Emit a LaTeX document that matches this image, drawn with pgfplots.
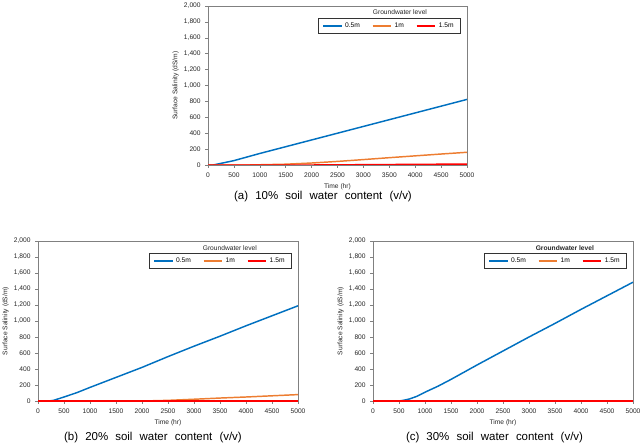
\documentclass[border=0pt]{standalone}
\usepackage{fontspec}
\setmainfont{Liberation Sans}
\usepackage{pgfplots}
\pgfplotsset{compat=1.18}

\definecolor{gw05}{RGB}{0,112,192}
\definecolor{gw10}{RGB}{237,125,49}
\definecolor{gw15}{RGB}{255,0,0}
\definecolor{frame}{RGB}{128,128,128}

\newcommand{\capfont}{\fontsize{8.6}{10}\selectfont\spaceskip=0.62em plus 0.1em\relax}

\pgfplotsset{
  salinity/.style={
    scale only axis,
    xmin=0, xmax=5000, ymin=0, ymax=2000,
    xtick={0,500,...,5000},
    ytick={0,200,...,2000},
    scaled ticks=false,
    /pgf/number format/.cd, 1000 sep={,}, assume math mode=true, /pgfplots/.cd,
    xticklabel style={/pgf/number format/1000 sep={}},
    tick label style={font=\fontsize{5}{6}\selectfont, color=black!85},
    label style={font=\fontsize{5}{6}\selectfont, color=black!85},
    xlabel={Time (hr)},
    ylabel={Surface Salinity (dS/m)},
    xlabel shift=-2pt,
    ylabel shift=-3pt,
    tick align=outside,
    tick pos=left,
    major tick length=2pt,
    every tick/.style={frame, line width=0.4pt},
    axis line style={frame, line width=0.5pt},
    legend columns=3,
    legend cell align=left,
    legend style={
      at={(0.975,0.925)}, anchor=north east,
      draw=black!80, line width=0.4pt,
      font=\fontsize{5}{6}\selectfont,
      inner xsep=3pt, inner ysep=1.2pt,
      /tikz/every even column/.append style={column sep=7pt},
    },
    legend image code/.code={\draw[#1] (0pt,0pt) -- (14pt,0pt);},
    every axis plot/.append style={line width=1.1pt},
  },
}

\begin{document}
\begin{tikzpicture}
\path[use as bounding box] (0,0) rectangle (482.25pt,335.25pt);

% (a) 10% soil water content
\begin{axis}[salinity, name=pa, at={(156pt,211.5pt)}, anchor=south west,
  width=194.25pt, height=119.25pt]
\addplot[gw05] coordinates {(0,0) (100,0) (500,55) (1000,145) (1500,230) (2000,315)
  (2500,400) (3000,485) (3500,570) (4000,655) (4500,740) (5000,825)};
\addplot[gw10] coordinates {(0,0) (800,0) (1000,3) (1500,10) (2000,25) (2500,45)
  (3000,68) (3500,92) (4000,115) (4500,138) (5000,160)};
\addplot[gw15] coordinates {(0,0) (2000,0) (3000,4) (4000,8) (5000,12)};
\legend{0.5m,1m,1.5m}
\node[font=\fontsize{5}{6}\selectfont, color=black!85] at (rel axis cs:0.741,0.962) {Groundwater level};
\end{axis}
\node[font=\capfont] at (242.25pt,187.5pt) {(a) 10\% soil water content (v/v)};

% (b) 20% soil water content
\begin{axis}[salinity, name=pb, at={(28.5pt,34.5pt)}, anchor=south west,
  width=195pt, height=120pt]
\addplot[gw05] coordinates {(0,0) (200,0) (300,8) (500,50) (750,105) (1000,170) (1500,295)
  (2000,420) (2500,555) (3000,685) (3500,810) (4000,940) (4500,1065) (5000,1190)};
\addplot[gw10] coordinates {(0,0) (2000,0) (2500,8) (3000,22) (3500,37) (4000,50)
  (4500,65) (5000,80)};
\addplot[gw15] coordinates {(0,0) (5000,0)};
\legend{0.5m,1m,1.5m}
\node[font=\fontsize{5}{6}\selectfont, color=black!85] at (rel axis cs:0.738,0.956) {Groundwater level};
\end{axis}
\node[font=\capfont] at (114.75pt,6.75pt) {(b) 20\% soil water content (v/v)};

% (c) 30% soil water content
\begin{axis}[salinity, name=pc, at={(279.75pt,34.5pt)}, anchor=south west,
  width=195pt, height=120pt]
\addplot[gw05] coordinates {(0,0) (450,0) (550,4) (700,25) (850,60) (1000,110) (1250,185)
  (1500,270) (2000,450) (2500,625) (3000,800) (3500,970) (4000,1145) (4500,1315) (5000,1485)};
\addplot[gw10] coordinates {(0,0) (5000,0)};
\addplot[gw15] coordinates {(0,0) (5000,0)};
\legend{0.5m,1m,1.5m}
\node[font=\fontsize{5}{6}\selectfont\bfseries, color=black!85] at (rel axis cs:0.738,0.956) {Groundwater level};
\end{axis}
\node[font=\capfont] at (370.9pt,6.75pt) {(c) 30\% soil water content (v/v)};
\end{tikzpicture}
\end{document}
